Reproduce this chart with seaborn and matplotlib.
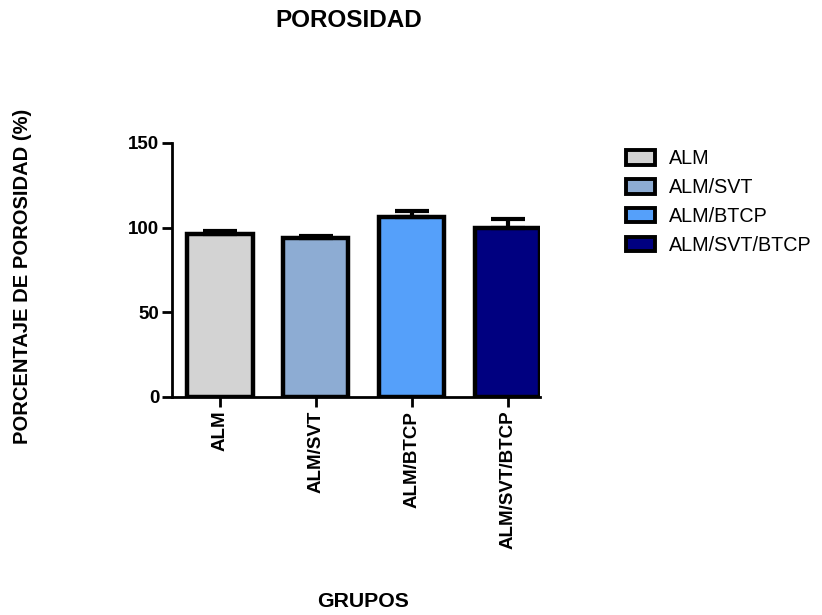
import matplotlib
matplotlib.use("Agg")
import matplotlib.pyplot as plt
from matplotlib.patches import Patch
import seaborn as sns
import pandas as pd

groups = ["ALM", "ALM/SVT", "ALM/BTCP", "ALM/SVT/BTCP"]
porosity = [96.5, 94.0, 106.5, 100.0]
sem = [1.5, 1.2, 3.5, 5.0]
colors = ["#D3D3D3", "#8DACD3", "#55A0FA", "#000080"]

sns.set_theme(style="white")
plt.rcParams["font.family"] = ["Liberation Sans", "DejaVu Sans"]
plt.rcParams["text.color"] = "black"
plt.rcParams["xtick.color"] = "black"
plt.rcParams["ytick.color"] = "black"

df = pd.DataFrame({"grupo": groups, "porosidad": porosity})

fig = plt.figure(figsize=(8.22, 6.15), dpi=100)
ax = fig.add_axes([0.2092, 0.3545, 0.448, 0.413])

sns.barplot(data=df, x="grupo", y="porosidad", hue="grupo", order=groups,
            hue_order=groups, palette=colors, saturation=1, width=0.68, dodge=False,
            legend=False, edgecolor="black", linewidth=3.2, ax=ax, errorbar=None)

# upward-only error bars
ax.errorbar(range(len(groups)), porosity, yerr=[[0] * len(sem), sem], fmt="none",
            ecolor="black", elinewidth=3, capsize=12, capthick=3, zorder=1)

ax.set_xlim(-0.5, 3.34)
ax.set_ylim(0, 150)
ax.set_yticks([0, 50, 100, 150])

for side in ["top", "right"]:
    ax.spines[side].set_visible(False)
for side in ["left", "bottom"]:
    ax.spines[side].set_linewidth(2)
    ax.spines[side].set_color("black")

ax.tick_params(axis="y", which="both", left=True, length=7, width=2, color="black",
               labelcolor="black", labelsize=13.5, pad=2)
ax.tick_params(axis="x", which="both", bottom=True, length=7, width=2, color="black",
               labelcolor="black", labelsize=13.5, pad=3)
for lbl in ax.get_xticklabels():
    lbl.set_rotation(90)
    lbl.set_fontweight("bold")
    lbl.set_verticalalignment("top")
for lbl in ax.get_yticklabels():
    lbl.set_fontweight("bold")

ax.set_xlabel("")
ax.set_ylabel("")

fig.text(0.4245, 0.967, "POROSIDAD", ha="center", va="center", fontsize=17.5,
         fontweight="bold", color="black")
fig.text(0.027, 0.55, "PORCENTAJE DE POROSIDAD (%)", ha="center", va="center",
         rotation=90, fontsize=14.5, fontweight="bold", color="black")
fig.text(0.442, 0.022, "GRUPOS", ha="center", va="center", fontsize=15.3,
         fontweight="bold", color="black")

handles = [Patch(facecolor=c, edgecolor="black", linewidth=2.8, label=g)
           for c, g in zip(colors, groups)]
fig.legend(handles=handles, loc="upper left", bbox_to_anchor=(0.752, 0.77), frameon=False,
           fontsize=14.2, handlelength=1.45, handleheight=0.75, handletextpad=0.75,
           labelspacing=0.5, borderaxespad=0, labelcolor="black")

fig.savefig("out.png", dpi=100)
